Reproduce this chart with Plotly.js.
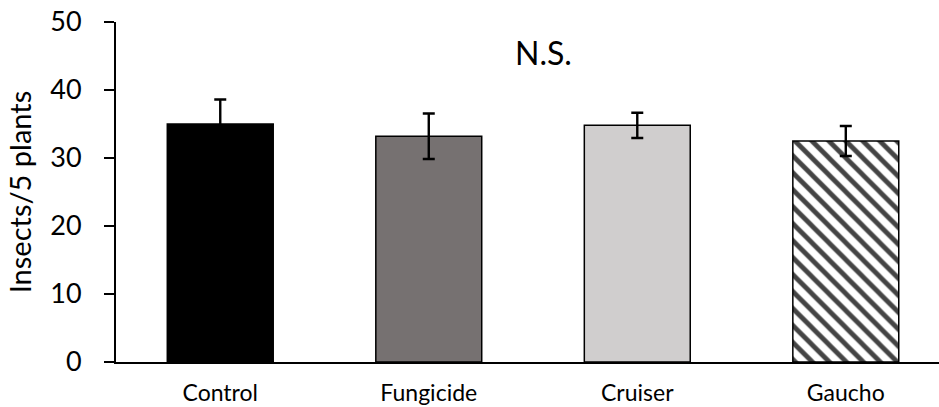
<!DOCTYPE html>
<html>
<head>
<meta charset="utf-8">
<script src="https://cdn.plot.ly/plotly-3.0.1.min.js"></script>
<style>html,body{margin:0;padding:0;background:#fff;}#chart{width:939px;height:407px;}</style>
</head>
<body>
<div id="chart"></div>
<script>
var categories = ["Control", "Fungicide", "Cruiser", "Gaucho"];
var means = [35.0, 33.2, 34.8, 32.5];
var errors = [3.6, 3.35, 1.85, 2.2];
var fillColors = ["#000000", "#767171", "#D0CECE", "#FFFFFF"];
var patternShapes = ["", "", "", "\\"];
var yTicks = [0, 10, 20, 30, 40, 50];

var FONT = "Lato, 'Open Sans', sans-serif";

var trace = {
  type: "bar",
  x: categories,
  y: means,
  marker: {
    color: fillColors,
    line: {color: "#000000", width: 1.5},
    pattern: {shape: patternShapes, fgcolor: "#000000", fgopacity: 1, size: 12, solidity: 0.4, fillmode: "overlay"}
  },
  error_y: {type: "data", array: errors, visible: true, color: "#000000", thickness: 2.4, width: 6},
  hoverinfo: "none"
};

var layout = {
  width: 939,
  height: 407,
  margin: {l: 116, r: 0, t: 22, b: 45, pad: 0},
  paper_bgcolor: "#FFFFFF",
  plot_bgcolor: "#FFFFFF",
  bargap: 0.492,
  showlegend: false,
  font: {family: FONT, color: "#000000"},
  xaxis: {
    type: "category",
    range: [-0.5, 3.447],
    showline: true,
    linecolor: "#000000",
    linewidth: 2,
    ticks: "",
    showgrid: false,
    zeroline: false,
    tickfont: {family: FONT, size: 23, color: "#000000"},
    ticklabelstandoff: 9
  },
  yaxis: {
    range: [0, 50],
    tickvals: yTicks,
    ticktext: yTicks.map(String),
    showline: true,
    linecolor: "#000000",
    linewidth: 2,
    ticks: "outside",
    ticklen: 10,
    tickwidth: 2,
    tickcolor: "#000000",
    showgrid: false,
    zeroline: false,
    tickfont: {family: FONT, size: 27, color: "#000000"},
    ticklabelstandoff: 17,
    title: {text: "Insects/5 plants", font: {family: FONT, size: 29, color: "#000000"}, standoff: 10}
  },
  annotations: [{
    text: "N.S.",
    xref: "paper", yref: "y",
    x: 0.52, y: 45.5,
    showarrow: false,
    font: {family: FONT, size: 32, color: "#000000"}
  }]
};

Plotly.newPlot("chart", [trace], layout, {staticPlot: true, displayModeBar: false});
</script>
</body>
</html>
